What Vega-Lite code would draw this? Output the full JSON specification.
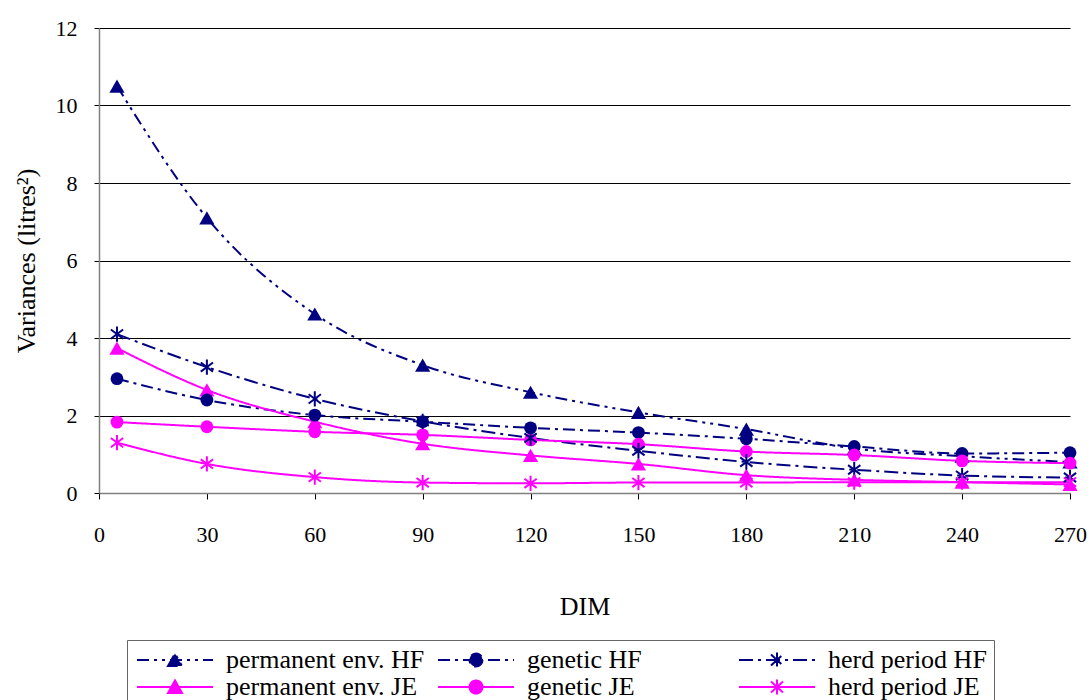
{
  "$schema": "https://vega.github.io/schema/vega-lite/v6.json",
  "width": 971,
  "height": 465,
  "autosize": {"type": "none"},
  "padding": {"left": 99, "top": 28, "right": 22, "bottom": 207},
  "background": "white",
  "config": {
    "view": {"stroke": null},
    "font": "Liberation Serif",
    "legend": {
      "orient": "none",
      "legendX": 28,
      "legendY": 612,
      "direction": "horizontal",
      "columns": 3,
      "gridAlign": "all",
      "columnPadding": 9,
      "rowPadding": 1,
      "labelFont": "Liberation Serif",
      "labelFontSize": 26,
      "labelColor": "#000000",
      "labelLimit": 500,
      "symbolSize": 400,
      "labelOffset": 66,
      "strokeColor": "#666666",
      "padding": 7,
      "symbolStrokeWidth": 2,
      "symbolOpacity": 1
    }
  },
  "data": {
    "values": [
      {"dim": 5, "series": "permanent env. HF", "v": 10.5},
      {"dim": 30, "series": "permanent env. HF", "v": 7.1},
      {"dim": 60, "series": "permanent env. HF", "v": 4.62},
      {"dim": 90, "series": "permanent env. HF", "v": 3.3},
      {"dim": 120, "series": "permanent env. HF", "v": 2.6},
      {"dim": 150, "series": "permanent env. HF", "v": 2.08},
      {"dim": 180, "series": "permanent env. HF", "v": 1.65},
      {"dim": 210, "series": "permanent env. HF", "v": 1.15},
      {"dim": 240, "series": "permanent env. HF", "v": 0.95},
      {"dim": 270, "series": "permanent env. HF", "v": 0.8},
      {"dim": 5, "series": "genetic HF", "v": 2.95},
      {"dim": 30, "series": "genetic HF", "v": 2.4},
      {"dim": 60, "series": "genetic HF", "v": 2.01},
      {"dim": 90, "series": "genetic HF", "v": 1.84},
      {"dim": 120, "series": "genetic HF", "v": 1.68},
      {"dim": 150, "series": "genetic HF", "v": 1.56},
      {"dim": 180, "series": "genetic HF", "v": 1.4},
      {"dim": 210, "series": "genetic HF", "v": 1.2},
      {"dim": 240, "series": "genetic HF", "v": 1.02},
      {"dim": 270, "series": "genetic HF", "v": 1.04},
      {"dim": 5, "series": "herd period HF", "v": 4.1},
      {"dim": 30, "series": "herd period HF", "v": 3.25},
      {"dim": 60, "series": "herd period HF", "v": 2.43},
      {"dim": 90, "series": "herd period HF", "v": 1.85},
      {"dim": 120, "series": "herd period HF", "v": 1.42},
      {"dim": 150, "series": "herd period HF", "v": 1.09},
      {"dim": 180, "series": "herd period HF", "v": 0.8},
      {"dim": 210, "series": "herd period HF", "v": 0.6},
      {"dim": 240, "series": "herd period HF", "v": 0.45},
      {"dim": 270, "series": "herd period HF", "v": 0.4},
      {"dim": 5, "series": "permanent env. JE", "v": 3.74},
      {"dim": 30, "series": "permanent env. JE", "v": 2.66},
      {"dim": 60, "series": "permanent env. JE", "v": 1.84},
      {"dim": 90, "series": "permanent env. JE", "v": 1.27},
      {"dim": 120, "series": "permanent env. JE", "v": 0.97},
      {"dim": 150, "series": "permanent env. JE", "v": 0.75},
      {"dim": 180, "series": "permanent env. JE", "v": 0.46},
      {"dim": 210, "series": "permanent env. JE", "v": 0.34},
      {"dim": 240, "series": "permanent env. JE", "v": 0.28},
      {"dim": 270, "series": "permanent env. JE", "v": 0.22},
      {"dim": 5, "series": "genetic JE", "v": 1.83},
      {"dim": 30, "series": "genetic JE", "v": 1.71},
      {"dim": 60, "series": "genetic JE", "v": 1.58},
      {"dim": 90, "series": "genetic JE", "v": 1.5},
      {"dim": 120, "series": "genetic JE", "v": 1.37},
      {"dim": 150, "series": "genetic JE", "v": 1.26},
      {"dim": 180, "series": "genetic JE", "v": 1.07},
      {"dim": 210, "series": "genetic JE", "v": 0.98},
      {"dim": 240, "series": "genetic JE", "v": 0.83},
      {"dim": 270, "series": "genetic JE", "v": 0.77},
      {"dim": 5, "series": "herd period JE", "v": 1.3},
      {"dim": 30, "series": "herd period JE", "v": 0.75},
      {"dim": 60, "series": "herd period JE", "v": 0.41},
      {"dim": 90, "series": "herd period JE", "v": 0.27},
      {"dim": 120, "series": "herd period JE", "v": 0.25},
      {"dim": 150, "series": "herd period JE", "v": 0.27},
      {"dim": 180, "series": "herd period JE", "v": 0.27},
      {"dim": 210, "series": "herd period JE", "v": 0.28},
      {"dim": 240, "series": "herd period JE", "v": 0.28},
      {"dim": 270, "series": "herd period JE", "v": 0.28}
    ]
  },
  "encoding": {
    "x": {
      "field": "dim",
      "type": "quantitative",
      "scale": {"domain": [0, 270], "nice": false, "zero": true},
      "axis": {
        "values": [0, 30, 60, 90, 120, 150, 180, 210, 240, 270],
        "grid": false,
        "domainColor": "#808080",
        "domainWidth": 1.5,
        "tickColor": "#000000",
        "tickSize": 6,
        "labelFont": "Liberation Serif",
        "labelFontSize": 22,
        "labelColor": "#000000",
        "labelPadding": 25,
        "labelFlush": false,
        "labelOverlap": false,
        "title": "DIM",
        "titleFont": "Liberation Serif",
        "titleFontSize": 26,
        "titleFontWeight": "normal",
        "titleColor": "#000000",
        "titlePadding": 48
      }
    },
    "y": {
      "field": "v",
      "type": "quantitative",
      "scale": {"domain": [0, 12], "nice": false},
      "axis": {
        "values": [0, 2, 4, 6, 8, 10, 12],
        "grid": true,
        "gridColor": "#000000",
        "gridWidth": 1,
        "domainColor": "#808080",
        "domainWidth": 1.5,
        "tickColor": "#000000",
        "tickSize": 5,
        "labelFont": "Liberation Serif",
        "labelFontSize": 22,
        "labelColor": "#000000",
        "labelPadding": 17,
        "title": "Variances (litres²)",
        "titleFont": "Liberation Serif",
        "titleFontSize": 26,
        "titleFontWeight": "normal",
        "titleColor": "#000000",
        "titlePadding": 16
      }
    },
    "color": {
      "field": "series",
      "type": "nominal",
      "scale": {
        "domain": ["permanent env. HF", "genetic HF", "herd period HF", "permanent env. JE", "genetic JE", "herd period JE"],
        "range": ["#000080", "#000080", "#000080", "#FF00FF", "#FF00FF", "#FF00FF"]
      },
      "legend": {"title": null}
    }
  },
  "layer": [
    {
      "mark": {"type": "line", "interpolate": "monotone", "strokeWidth": 2},
      "encoding": {
        "strokeDash": {
          "field": "series",
          "type": "nominal",
          "scale": {
            "domain": ["permanent env. HF", "genetic HF", "herd period HF", "permanent env. JE", "genetic JE", "herd period JE"],
            "range": [[12, 5, 3, 5, 3, 5], [12, 5, 3, 5], [14, 5, 3, 5], [1, 0], [1, 0], [1, 0]]
          },
          "legend": {"title": null}
        }
      }
    },
    {
      "transform": [{"filter": "datum.v < -100"}],
      "mark": {"type": "point", "filled": true, "strokeWidth": 2},
      "encoding": {
        "shape": {
          "field": "series",
          "type": "nominal",
          "scale": {
            "domain": ["permanent env. HF", "genetic HF", "herd period HF", "permanent env. JE", "genetic JE", "herd period JE"],
            "range": [
              "M-1,0H6.6M2.1,0.6L2.8,-0.65L3.5,0.6Z",
              "M-1,0H6.6M3.45,0A0.65,0.65,0,1,1,2.15,0A0.65,0.65,0,1,1,3.45,0Z",
              "M-1,0H6.6M2.8,-0.75V0.75M2.2,-0.55L3.4,0.55M2.2,0.55L3.4,-0.55",
              "M-1,0H6.6M2.1,0.6L2.8,-0.65L3.5,0.6Z",
              "M-1,0H6.6M3.45,0A0.65,0.65,0,1,1,2.15,0A0.65,0.65,0,1,1,3.45,0Z",
              "M-1,0H6.6M2.8,-0.75V0.75M2.2,-0.55L3.4,0.55M2.2,0.55L3.4,-0.55"
            ]
          },
          "legend": {"title": null}
        }
      }
    },
    {
      "transform": [{"filter": "indexof(datum.series, 'permanent') === 0"}],
      "mark": {"type": "point", "filled": true, "shape": "triangle-up", "size": 230, "opacity": 1}
    },
    {
      "transform": [{"filter": "indexof(datum.series, 'genetic') === 0"}],
      "mark": {"type": "point", "filled": true, "shape": "circle", "size": 165, "opacity": 1}
    },
    {
      "transform": [{"filter": "indexof(datum.series, 'herd') === 0"}],
      "mark": {"type": "point", "filled": false, "shape": "M0,-1.25V1.25M-1,-0.75L1,0.75M-1,0.75L1,-0.75", "size": 150, "strokeWidth": 2, "opacity": 1}
    }
  ]
}
